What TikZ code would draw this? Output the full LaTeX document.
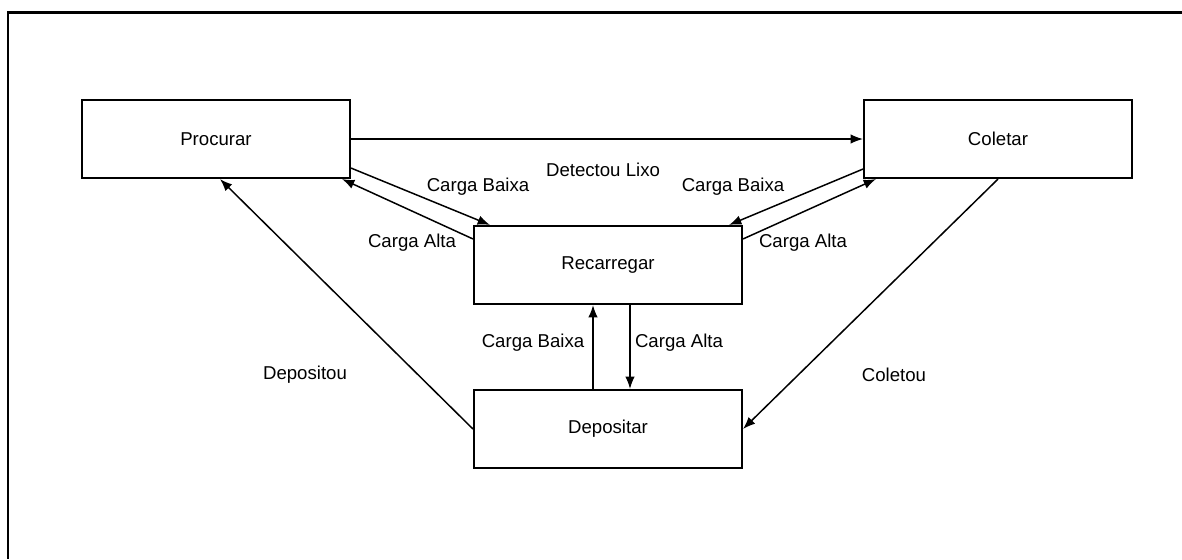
\documentclass[tikz,border=0pt]{standalone}
\usepackage{fontspec}
\setmainfont{Liberation Sans}
\usetikzlibrary{arrows.meta}

\tikzset{
	estado/.style={draw, line width=1.2pt, minimum width=5.36cm, minimum height=1.56cm, inner sep=0pt, font=\fontsize{10.6}{12}\selectfont},
	rotulo/.style={inner sep=0pt, font=\fontsize{10.6}{12}\selectfont},
	seta/.style={line width=0.85pt, -{Latex[length=7pt,width=5.4pt]}}
}

\begin{document}
\begin{tikzpicture}[x=0.02cm,y=-0.02cm]
			\useasboundingbox (0,0) rectangle (1182,559);
			\draw[line width=1.7pt] (1182,12) -- (8,12) -- (8,559);
			% estados
			\node[estado] (proc) at (216,139) {Procurar};
			\node[estado] (col) at (998,139) {Coletar};
			\node[estado] (rec) at (608,265) {Recarregar};
			\node[estado] (dep) at (608,429) {Depositar};
			% transicoes
			\draw[seta] (proc.east) -- (col.west);
			\draw[seta] ([yshift=0.22cm]proc.south east) -- ([xshift=0.34cm]rec.north west);
			\draw[seta] ([yshift=-0.28cm]rec.north west) -- ([xshift=-0.18cm]proc.south east);
			\draw[seta] ([yshift=0.2cm]col.south west) -- ([xshift=-0.28cm]rec.north east);
			\draw[seta] ([yshift=-0.28cm]rec.north east) -- ([xshift=0.26cm]col.south west);
			\draw[seta] ([xshift=-0.3cm]dep.north) -- ([xshift=-0.3cm]rec.south);
			\draw[seta] ([xshift=0.44cm]rec.south) -- ([xshift=0.44cm]dep.north);
			\draw[seta] (dep.west) -- ([xshift=0.08cm]proc.south);
			\draw[seta] (col.south) -- (dep.east);
			% rotulos
			\node[rotulo] (lixo) at (603,170) {Detectou Lixo};
			\node[rotulo] (baixa1) at (478,187) {Carga Baixa};
			\node[rotulo] (alta1) at (412,243) {Carga Alta};
			\node[rotulo] (baixa2) at (733,187) {Carga Baixa};
			\node[rotulo] (alta2) at (803,243) {Carga Alta};
			\node[rotulo] (baixa3) at (533,343) {Carga Baixa};
			\node[rotulo] (alta3) at (679,343) {Carga Alta};
			\node[rotulo] (depositou) at (305,375) {Depositou};
			\node[rotulo] (coletou) at (894,375) {Coletou};
	\end{tikzpicture}
\end{document}
